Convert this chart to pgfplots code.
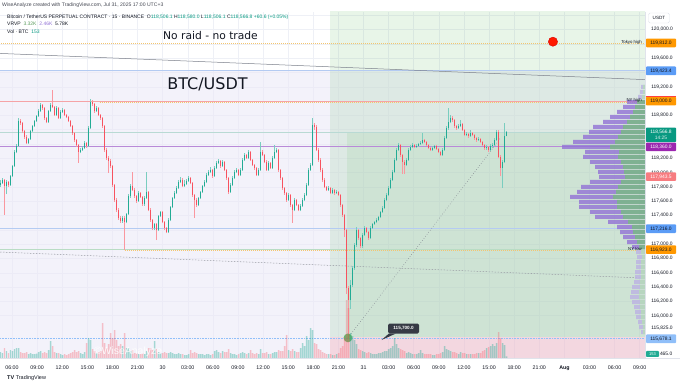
\documentclass[border=0pt]{standalone}
\usepackage{pgfplots}
\pgfplotsset{compat=1.18}
\usepackage{pgfplotstable}
\usepackage{fontspec}
\setmainfont{Liberation Sans}
\newfontfamily\djv{DejaVu Sans}
\definecolor{upc}{HTML}{22AB94}
\definecolor{dnc}{HTML}{F7525F}
\definecolor{txt}{HTML}{131722}
\definecolor{hdr}{HTML}{434651}
\definecolor{gridc}{HTML}{EEF0F6}
\definecolor{lavc}{HTML}{EBE9F6}
\definecolor{zoneg}{HTML}{4CAF50}
\definecolor{zoner}{HTML}{F23645}
\definecolor{orng}{HTML}{FF9800}
\definecolor{dotor}{HTML}{F4C56E}
\definecolor{bluel}{HTML}{B4CBF2}
\definecolor{blueb}{HTML}{5B9CF6}
\definecolor{redl}{HTML}{F5A3A6}
\definecolor{purl}{HTML}{B98AD8}
\definecolor{purb}{HTML}{9C27B0}
\definecolor{greenl}{HTML}{B9DCC4}
\definecolor{tealc}{HTML}{089981}
\definecolor{salm}{HTML}{F77C80}
\definecolor{lblue}{HTML}{90BFF9}
\definecolor{grayl}{HTML}{7B7F8A}
\definecolor{vpp}{HTML}{9272D6}
\definecolor{vpg}{HTML}{72C276}
\definecolor{vppl}{HTML}{BDB5E2}
\definecolor{vpgl}{HTML}{B5DDB8}
\definecolor{pricel}{HTML}{B9DAD4}
\definecolor{sepc}{HTML}{E0E3EB}
\definecolor{callc}{HTML}{363A45}

\pgfplotstableread{
o h l c v
117830 117900 117800 117856 600
117856 117920 117840 117898 500
117898 117915 117408 117814 1000
117814 117890 117700 117870 700
117870 117885 117800 117828 500
117828 117970 117815 117954 800
117954 118110 117940 118094 700
118094 118310 118080 118290 900
118290 118400 118270 118374 1000
118374 118760 118360 118724 1000
118724 118745 118670 118696 600
118696 118710 118560 118584 500
118584 118600 118470 118500 500
118500 118520 118400 118416 600
118416 118490 118400 118472 400
118472 118600 118460 118584 500
118584 118670 118570 118654 400
118654 118740 118640 118724 400
118724 118810 118710 118794 450
118794 118890 118780 118864 600
118864 118976 118850 118948 700
118948 118960 118880 118906 500
118906 118920 118740 118766 600
118766 118780 118690 118710 500
118710 118880 118700 118864 800
118864 118970 118850 118948 1700
118948 119158 118900 118920 1200
118920 118935 118790 118808 600
118808 118925 118795 118906 500
118906 118920 118750 118766 500
118766 118870 118750 118850 400
118850 118900 118830 118878 300
118878 118890 118790 118808 400
118808 118825 118760 118780 300
118780 118795 118705 118724 400
118724 118740 118640 118654 500
118654 118670 118530 118556 600
118556 118570 118430 118458 800
118458 118475 118360 118388 600
118388 118400 118136 118290 700
118290 118340 118270 118318 500
118318 118370 118300 118346 400
118346 118440 118330 118416 600
118416 118430 118350 118374 1500
118374 118650 118360 118626 2000
118626 119032 118610 118990 1800
118990 119010 118930 118962 900
118962 118980 118840 118864 700
118864 118930 118850 118906 500
118906 118920 118790 118808 600
118808 118825 118740 118766 700
118766 118780 118630 118654 3500
118654 118670 118290 118318 1500
118318 118340 118180 118206 1000
118206 118230 118000 118164 1400
118164 118190 118070 118094 2500
118094 118110 117800 117828 2000
117828 117840 117590 117618 2800
117618 117640 117450 117478 1800
117478 117500 117340 117366 1200
117366 117390 117300 117324 1400
117324 117400 117300 117366 1200
117366 117390 116918 117310 2500
117310 117440 117290 117422 1000
117422 117700 117410 117674 1000
117674 117840 117650 117814 700
117814 118010 117740 117758 800
117758 117780 117650 117674 500
117674 117690 117580 117604 500
117604 117740 117590 117716 400
117716 117730 117640 117660 400
117660 117680 117540 117562 500
117562 117670 117540 117646 400
117646 118010 117630 117730 700
117730 117745 117460 117478 1000
117478 117500 117310 117338 1000
117338 117350 117200 117226 800
117226 117300 117200 117282 1700
117282 117300 117058 117198 900
117198 117410 117180 117394 600
117394 117470 117380 117450 500
117450 117465 117290 117310 500
117310 117330 117200 117226 600
117226 117240 117150 117170 500
117170 117360 117155 117338 500
117338 117540 117320 117520 600
117520 117665 117500 117646 500
117646 117740 117630 117716 400
117716 117810 117700 117786 400
117786 117895 117770 117870 500
117870 117940 117850 117898 400
117898 117930 117795 117814 400
117814 117900 117800 117842 300
117842 117910 117820 117884 300
117884 117950 117870 117926 400
117926 117940 117840 117856 800
117856 117870 117660 117688 500
117688 117700 117366 117618 600
117618 117640 117520 117548 500
117548 117660 117530 117646 400
117646 117750 117630 117730 400
117730 117830 117710 117814 400
117814 117890 117800 117870 300
117870 117990 117850 117968 400
117968 118040 117950 118010 400
118010 118080 117990 118038 300
118038 118050 117930 117954 400
117954 118090 117940 118066 700
118066 118160 118050 118136 800
118136 118190 118120 118164 600
118164 118180 118070 118094 500
118094 118170 118080 118150 700
118150 118165 118020 118038 600
118038 118050 117900 117926 600
117926 117940 117700 117730 900
117730 117850 117720 117828 500
117828 117950 117810 117926 400
117926 118030 117910 118010 400
118010 118060 117990 118038 300
118038 118055 117950 117968 400
117968 118060 117950 118038 500
118038 118200 118020 118178 600
118178 118270 118160 118248 500
118248 118265 118190 118206 400
118206 118310 118190 118290 500
118290 118300 118160 118178 800
118178 118190 118090 118108 500
118108 118120 118040 118066 400
118066 118080 117950 117968 500
117968 118060 117950 118038 400
118038 118430 118020 118290 900
118290 118320 118230 118248 500
118248 118265 118130 118150 500
118150 118170 118020 118038 600
118038 118160 118020 118136 400
118136 118150 118050 118066 400
118066 118230 118050 118206 500
118206 118388 118190 118290 600
118290 118350 118270 118318 600
118318 118330 118010 118038 800
118038 118050 117900 117926 700
117926 117940 117760 117786 700
117786 117800 117690 117716 1200
117716 117730 117590 117618 2300
117618 117710 117600 117688 800
117688 117700 117520 117548 700
117548 117560 117296 117478 900
117478 117640 117460 117618 700
117618 117630 117530 117548 600
117548 117560 117460 117478 600
117478 117560 117460 117534 1000
117534 117640 117520 117618 1500
117618 117710 117600 117688 1200
117688 117850 117670 117828 2200
117828 118060 117810 118038 1800
118038 118130 118020 118108 3000
118108 118766 118090 118668 2800
118668 118700 118600 118640 1500
118640 118660 118300 118318 1400
118318 118340 118150 118178 900
118178 118200 118010 118038 800
118038 118060 117870 117898 600
117898 117920 117780 117800 500
117800 117820 117740 117758 400
117758 117810 117740 117786 400
117786 117800 117700 117716 400
117716 117780 117700 117758 300
117758 117770 117690 117716 300
117716 117760 117700 117730 400
117730 117745 117670 117688 500
117688 117700 117520 117548 1000
117548 117560 117380 117408 1200
117408 117420 117100 117198 2000
117198 117210 116300 116386 5800
116386 116420 115678 116218 5000
116218 116500 116100 116428 2500
116428 116700 116400 116666 2200
116666 117020 116640 116988 1800
116988 117240 116960 117198 1400
117198 117215 117060 117086 900
117086 117100 116940 116974 800
116974 117150 116950 117128 700
117128 117250 117110 117226 600
117226 117240 117150 117170 500
117170 117190 117060 117086 600
117086 117250 117070 117226 500
117226 117300 117210 117282 400
117282 117330 117270 117310 400
117310 117360 117290 117338 400
117338 117400 117320 117380 500
117380 117470 117360 117450 500
117450 117530 117430 117506 600
117506 117640 117490 117618 700
117618 117710 117600 117688 700
117688 117810 117670 117786 900
117786 117920 117770 117898 1000
117898 118030 117880 118010 1200
118010 118200 117990 118178 2000
118178 118340 118160 118318 1400
118318 118420 118300 118388 1000
118388 118400 118220 118248 900
118248 118260 117980 118150 800
118150 118170 117980 118108 700
118108 118200 118090 118178 500
118178 118340 118160 118318 600
118318 118390 118300 118360 500
118360 118410 118340 118388 400
118388 118400 118340 118360 400
118360 118400 118350 118374 400
118374 118420 118360 118402 500
118402 118440 118390 118416 800
118416 118550 118400 118458 500
118458 118470 118410 118430 400
118430 118445 118370 118388 400
118388 118400 118330 118346 400
118346 118360 118300 118318 400
118318 118370 118300 118346 300
118346 118390 118330 118374 300
118374 118385 118310 118332 400
118332 118345 118270 118290 400
118290 118300 118230 118248 500
118248 118340 118230 118318 600
118318 118510 118300 118486 1200
118486 118650 118470 118626 900
118626 118906 118600 118710 800
118710 118800 118690 118766 700
118766 118790 118710 118738 600
118738 118750 118630 118654 600
118654 118670 118600 118626 500
118626 118680 118610 118654 400
118654 118740 118640 118682 600
118682 118700 118580 118598 500
118598 118610 118510 118528 500
118528 118570 118510 118542 400
118542 118560 118490 118514 400
118514 118590 118500 118556 400
118556 118570 118510 118528 400
118528 118545 118460 118486 400
118486 118500 118430 118458 500
118458 118500 118440 118470 500
118470 118480 118410 118430 500
118430 118440 118370 118388 700
118388 118400 118320 118346 800
118346 118380 118320 118352 1000
118352 118370 118290 118318 1100
118318 118400 118300 118374 1200
118374 118420 118340 118388 1400
118388 118480 118370 118458 1200
118458 118600 118440 118570 1500
118570 118590 118200 118220 2600
118220 118240 117950 118066 2000
118066 118170 117786 118150 1500
118150 118700 118130 118506 1300
118506 118580 118506 118567 153
}\candles

\pgfplotstableread{
p W G a
119200 4 2 0
119130 5 2 0
119060 7 3 0
118990 18 8 1
118920 22 10 1
118850 28 12 1
118780 35 15 1
118710 42 18 1
118640 52 22 1
118570 56 24 1
118500 62 27 1
118430 72 30 1
118360 83 35 1
118290 60 26 1
118220 62 27 1
118150 55 24 1
118080 50 22 1
118010 47 21 1
117940 46 20 1
117870 55 24 1
117800 64 27 1
117730 68 29 1
117660 75 32 1
117590 66 28 1
117520 66 28 1
117450 55 24 1
117380 50 22 1
117310 37 17 1
117240 28 13 1
117170 25 12 1
117100 22 10 1
117030 18 8 1
116960 13 6 1
116890 9 4 0
116820 8 3 0
116750 9 4 0
116680 9 4 0
116610 10 4 0
116540 10 4 0
116470 11 5 0
116400 13 5 0
116330 14 6 0
116260 15 6 0
116190 13 5 0
116120 11 5 0
116050 10 4 0
115980 9 4 0
115910 7 3 0
115840 6 2 0
115770 4 2 0
}\vprof

\begin{document}
\begin{tikzpicture}[x=1pt,y=1pt]
\path[use as bounding box] (0,0) rectangle (680,386);
\begin{axis}[at={(0pt,374pt)}, anchor=north west, scale only axis,
  width=645pt, height=346pt,
  xmin=4.566, xmax=81.63, ymin=115409, ymax=120245,
  scaled x ticks=false, scaled y ticks=false,
  axis line style={draw=none}, major tick length=0pt, minor tick length=0pt,
  xtick={6,9,...,81},
  xticklabels={06:00,09:00,12:00,15:00,18:00,21:00,30,03:00,06:00,09:00,12:00,15:00,18:00,21:00,31,03:00,06:00,09:00,12:00,15:00,18:00,21:00,\textbf{Aug},03:00,06:00,09:00},
  ytick={115825,116000,116200,116400,116600,116800,117000,117200,117400,117600,117800,118000,118200,118400,118600,118800,119000,119200,119400,119600,119800,120000,120200},
  yticklabels={{115,825.0},{116,000.0},{116,200.0},{116,400.0},{116,600.0},{116,800.0},{117,000.0},{},{117,400.0},{117,600.0},{117,800.0},{118,000.0},{118,200.0},{},{},{118,800.0},{},{119,200.0},{},{119,600.0},{},{120,000.0},{}},
  minor ytick={116000,116200,116400,116600,116800,117000,117200,117400,117600,117800,118000,118200,118400,118600,118800,119000,119200,119400,119600,119800,120000,120200},
  yticklabel pos=right,
  xmajorgrids, yminorgrids,
  grid style={draw=gridc, line width=0.5pt},
  minor grid style={draw=gridc, line width=0.5pt},
  xticklabel style={font=\fontsize{5.3}{6}\selectfont, text=txt, anchor=center, yshift=-10pt},
  yticklabel style={font=\fontsize{4.9}{5}\selectfont, text=txt, anchor=center, xshift=17pt},
]
% zones
\addplot[draw=none, fill=lavc, fill opacity=0.6, forget plot] coordinates {(4,115300) (82,115300) (82,119423.4) (4,119423.4)} -- cycle;
\addplot[draw=none, fill=zoneg, fill opacity=0.13, forget plot] coordinates {(44,115700) (82,115700) (82,120300) (44,120300)} -- cycle;
\addplot[draw=none, fill=zoneg, fill opacity=0.10, forget plot] coordinates {(46,115700) (82,115700) (82,118566.8) (46,118566.8)} -- cycle;
\addplot[draw=none, fill=zoner, fill opacity=0.14, forget plot] coordinates {(44,115300) (82,115300) (82,115700) (44,115700)} -- cycle;
% horizontal levels
\addplot[dotor, dash pattern=on 0.6pt off 1.4pt, line width=0.6pt, forget plot] coordinates {(4,119812) (82,119812)};
\addplot[bluel, line width=1.3pt, forget plot] coordinates {(4,119423.4) (82,119423.4)};
\addplot[redl, line width=0.9pt, forget plot] coordinates {(4,119000) (82,119000)};
\addplot[dotor, dash pattern=on 0.6pt off 1.4pt, line width=0.6pt, forget plot] coordinates {(16.5,118984) (82,118984)};
\addplot[pricel, line width=0.6pt, forget plot] coordinates {(4,118566.8) (82,118566.8)};
\addplot[purl, line width=0.8pt, forget plot] coordinates {(4,118360) (82,118360)};
\addplot[bluel, line width=1.2pt, forget plot] coordinates {(4,117216) (82,117216)};
\addplot[greenl, line width=0.9pt, forget plot] coordinates {(4,116923) (82,116923)};
\addplot[dotor, dash pattern=on 0.6pt off 1.4pt, line width=0.6pt, forget plot] coordinates {(19.5,116908) (82,116908)};
\addplot[lblue, densely dotted, line width=0.6pt, forget plot] coordinates {(4,115678.1) (82,115678.1)};
% trend lines
\addplot[grayl, line width=0.5pt, forget plot] coordinates {(4.566,119666) (81.63,119300)};
\addplot[grayl!80, dash pattern=on 1.5pt off 1.5pt, line width=0.5pt, forget plot] coordinates {(4.566,116890) (81.63,116526)};
\addplot[grayl, dotted, line width=0.55pt, forget plot] coordinates {(46.14,115690) (64.3,118472)};
% candles: wicks
\addplot[draw=none, mark=none, forget plot, error bars/.cd, y dir=plus, y explicit, error mark=none,
  error bar style={draw=upc!60, line width=0.45pt}]
  table[x expr=4.63+0.239*\coordindex, y=l,
    y error plus expr={\thisrow{c}>=\thisrow{o} ? \thisrow{h}-\thisrow{l} : 0}] {\candles};
\addplot[draw=none, mark=none, forget plot, error bars/.cd, y dir=plus, y explicit, error mark=none,
  error bar style={draw=dnc!60, line width=0.45pt}]
  table[x expr=4.63+0.239*\coordindex, y=l,
    y error plus expr={\thisrow{c}<\thisrow{o} ? \thisrow{h}-\thisrow{l} : 0}] {\candles};
% candles: bodies
\addplot[draw=none, mark=none, forget plot, error bars/.cd, y dir=plus, y explicit, error mark=none,
  error bar style={draw=upc, line width=1.35pt}]
  table[x expr=4.63+0.239*\coordindex, y expr={min(\thisrow{o},\thisrow{c})},
    y error plus expr={\thisrow{c}>=\thisrow{o} ? \thisrow{c}-\thisrow{o} : 0}] {\candles};
\addplot[draw=none, mark=none, forget plot, error bars/.cd, y dir=plus, y explicit, error mark=none,
  error bar style={draw=dnc, line width=1.35pt}]
  table[x expr=4.63+0.239*\coordindex, y expr={min(\thisrow{o},\thisrow{c})},
    y error plus expr={\thisrow{c}<\thisrow{o} ? \thisrow{o}-\thisrow{c} : 0}] {\candles};
% dots
\addplot[only marks, mark=*, mark size=4.6pt, color=red!85!black, mark options={fill=red!80!orange}, forget plot] coordinates {(70.63,119830)};
\addplot[only marks, mark=*, mark size=4.4pt, color=green!55!black, mark options={fill=green!50!black!70, fill opacity=0.8, draw opacity=0}, forget plot] coordinates {(46.14,115690)};
% box anchors
\coordinate (b1) at (axis cs:81.63,119812);
\coordinate (b2) at (axis cs:81.63,119423.4);
\coordinate (b3) at (axis cs:81.63,119000);
\coordinate (b4) at (axis cs:81.63,118566.8);
\coordinate (b5) at (axis cs:81.63,118360);
\coordinate (b6) at (axis cs:81.63,117943.5);
\coordinate (b7) at (axis cs:81.63,117216);
\coordinate (b8) at (axis cs:81.63,116923);
\coordinate (b9) at (axis cs:81.63,115678.1);
\coordinate (b10) at (axis cs:81.63,115465);
\end{axis}

% volume
\begin{axis}[at={(0pt,374pt)}, anchor=north west, scale only axis,
  width=645pt, height=346pt, xmin=4.566, xmax=81.63, ymin=0, ymax=34600, hide axis,
  scaled x ticks=false, scaled y ticks=false]
\addplot[ybar, bar width=0.17, bar shift=0pt, fill=upc, fill opacity=0.38, draw=none]
  table[x expr=4.63+0.239*\coordindex, y expr={\thisrow{c}>=\thisrow{o} ? \thisrow{v} : 0}] {\candles};
\addplot[ybar, bar width=0.17, bar shift=0pt, fill=dnc, fill opacity=0.32, draw=none]
  table[x expr=4.63+0.239*\coordindex, y expr={\thisrow{c}<\thisrow{o} ? \thisrow{v} : 0}] {\candles};
\end{axis}

% volume profile
\begin{axis}[at={(0pt,374pt)}, anchor=north west, scale only axis,
  width=645pt, height=346pt, xmin=0, xmax=645, x dir=reverse,
  ymin=115409, ymax=120245, hide axis, scaled x ticks=false, scaled y ticks=false]
\addplot[xbar, bar width=56, bar shift=0pt, fill=vpp, fill opacity=0.8, draw=none]
  table[y=p, x expr={\thisrow{a}==1 ? \thisrow{W} : 0}] {\vprof};
\addplot[xbar, bar width=56, bar shift=0pt, fill=vpg, fill opacity=0.7, draw=none]
  table[y=p, x expr={\thisrow{a}==1 ? \thisrow{G} : 0}] {\vprof};
\addplot[xbar, bar width=56, bar shift=0pt, fill=vppl, fill opacity=0.85, draw=none]
  table[y=p, x expr={\thisrow{a}==0 ? \thisrow{W} : 0}] {\vprof};
\addplot[xbar, bar width=56, bar shift=0pt, fill=vpgl, fill opacity=0.8, draw=none]
  table[y=p, x expr={\thisrow{a}==0 ? \thisrow{G} : 0}] {\vprof};
\end{axis}

% separators
\draw[sepc, line width=0.5pt] (0,28) -- (680,28);
\draw[sepc, line width=0.5pt] (645,28) -- (645,374);

% price boxes
\tikzset{pbox/.style={anchor=west, xshift=0.8pt, minimum width=30pt, minimum height=8.6pt,
  inner sep=0pt, font=\fontsize{4.9}{5}\selectfont, rounded corners=0.8pt}}
\node[pbox, fill=orng, text=txt] at (b1) {119,812.0};
\node[pbox, fill=blueb, text=txt] at (b2) {119,423.4};
\node[pbox, fill=orng, text=txt] (n3) at (b3) {119,000.0};
\draw[red!75, line width=0.9pt] (n3.north west) -- (n3.north east);
\node[pbox, fill=tealc, text=white, anchor=north west, yshift=4.6pt, minimum height=14.5pt, align=center,
  font=\fontsize{4.9}{5.6}\selectfont] at (b4) {118,566.8\\[0.3pt]{\color{white!85!tealc}14:25}};
\node[pbox, fill=purb, text=white] at (b5) {118,360.0};
\node[pbox, fill=salm, text=white] at (b6) {117,943.5};
\node[pbox, fill=blueb, text=txt] at (b7) {117,216.0};
\node[pbox, fill=orng, text=txt] at (b8) {116,923.0};
\node[pbox, fill=lblue, text=txt] at (b9) {115,678.1};
\node[pbox, fill=upc, text=white, minimum width=13pt, minimum height=6pt, font=\fontsize{4}{4.5}\selectfont] (n10) at (b10) {153};
\node[anchor=west, inner sep=0pt, xshift=0.6pt, font=\fontsize{4.9}{5}\selectfont, text=txt] at (n10.east) {465.0};
\node[draw=sepc, fill=white, rounded corners=1.5pt, minimum width=21pt, minimum height=10pt, inner sep=0pt,
  font=\fontsize{4.6}{5}\selectfont, text=txt] at (659,368) {USDT};

% level labels
\node[anchor=east, inner sep=0pt, font=\fontsize{4.3}{5}\selectfont, text=txt] at (642,343.5) {Tokyo high};
\node[anchor=east, inner sep=0pt, font=\fontsize{4.3}{5}\selectfont, text=txt] at (642,286) {NY high};
\node[anchor=east, inner sep=0pt, font=\fontsize{4.3}{5}\selectfont, text=txt] at (642,137) {NY low};

% callout
\fill[callc] (389,52.5) -- (396,52.5) -- (381.5,46) -- cycle;
\node[fill=callc, text=white, rounded corners=1.5pt, minimum width=31pt, minimum height=10pt, inner sep=0pt,
  font=\bfseries\fontsize{4.6}{5}\selectfont] at (403.5,57.5) {115,700.0};

% titles
\node[font=\djv\fontsize{10.7}{12}\selectfont, text=txt] at (210.5,350) {No raid - no trade};
\node[font=\djv\fontsize{16}{18}\selectfont, text=txt] at (207.5,302) {BTC/USDT};

% watermark
\node[font=\fontsize{10.5}{12}\selectfont, text=white, text opacity=0.85] at (128,34) {\textcopyright WiseAnalyze};

% header
\node[anchor=west, inner sep=0pt, font=\fontsize{5.1}{6}\selectfont, text=hdr] at (2,381) {WiseAnalyze created with TradingView.com, Jul 31, 2025 17:00 UTC+3};
\node[anchor=west, inner sep=0pt, font=\fontsize{5}{6}\selectfont, text=txt] at (7,369)
  {Bitcoin / TetherUS PERPETUAL CONTRACT · 15 · BINANCE\ \ O\textcolor{tealc}{118,506.1} H\textcolor{tealc}{118,580.0} L\textcolor{tealc}{118,506.1} C\textcolor{tealc}{118,566.8} \textcolor{tealc}{+60.6 (+0.05\%)}};
\node[anchor=west, inner sep=0pt, font=\fontsize{5}{6}\selectfont, text=txt] at (7,362)
  {VRVP\ \ \textcolor{vpg!80!black}{3.32K}\ \ \textcolor{vpp}{2.46K}\ \ 5.78K};
\node[anchor=west, inner sep=0pt, font=\fontsize{5}{6}\selectfont, text=txt] at (7,354)
  {Vol · BTC\ \ \textcolor{tealc}{153}};
\node[anchor=west, inner sep=0pt, font=\fontsize{5.5}{6}\selectfont, text=txt] at (7,8)
  {\textbf{TV}\ TradingView};
\end{tikzpicture}
\end{document}
